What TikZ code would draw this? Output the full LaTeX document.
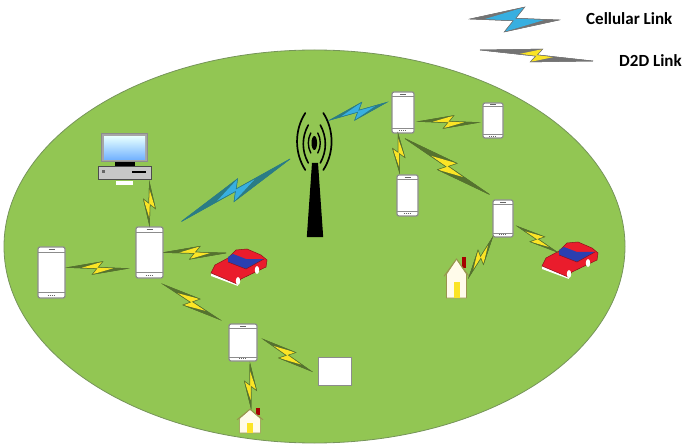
\documentclass[tikz,border=0pt]{standalone}
\usepackage{fontspec}
\setmainfont{Carlito}
\usepackage{xcolor}
\usetikzlibrary{calc, positioning, shapes.geometric}

\definecolor{fieldgreen}{HTML}{92C653}
\definecolor{fieldedge}{HTML}{76945A}
\definecolor{boltyellow}{HTML}{FBE426}
\definecolor{boltblue}{HTML}{38AFE0}
\definecolor{tailgreen}{HTML}{55722F}
\definecolor{tailblue}{HTML}{2A7C86}
\definecolor{carred}{HTML}{EA1C2C}
\definecolor{carblue}{HTML}{2B3FB0}
\definecolor{wallcream}{HTML}{FFFBEA}

% zig-zag link: [half height]{style}{from}{to}
\newcommand{\zlink}[4][5]{%
  \coordinate (za) at (#3);
  \coordinate (zb) at (#4);
  \coordinate (zm) at ($(za)!.5!(zb)$);
  \coordinate (ztop) at ($(zm)!.8*#1pt!(zb)!#1pt!90:(zb)$);
  \coordinate (zbot) at ($(zm)!-.8*#1pt!(zb)!-#1pt!90:(zb)$);
  \coordinate (zna) at ($(zm)!.1*#1pt!(zb)!.1*#1pt!90:(zb)$);
  \coordinate (znb) at ($(zm)!-.1*#1pt!(zb)!-.1*#1pt!90:(zb)$);
  \fill[#2tail] (za) -- (ztop) -- (zna) -- (zb) -- (zbot) -- (znb) -- cycle;
  \fill[#2core] ($(zm)!-2.4*#1pt!(zb)$) -- (ztop) -- (zna)
    -- ($(zm)!2.4*#1pt!(zb)$) -- (zbot) -- (znb) -- cycle;
  \draw[#2tail, fill=none] (za) -- (ztop) -- (zna) -- (zb) -- (zbot) -- (znb) -- cycle;
}

% car with its upper left corner at #1
\newcommand{\carat}[1]{%
  \begin{scope}[shift={(#1)}]
    \fill[white] (0,24) -- (26,34) -- (27,37) -- (0,27) -- cycle;
    \draw[carbody] (0,24) -- (4,16) -- (17,9) -- (25,1) -- (36,0) -- (50,6)
      -- (56,11) -- (55,18) -- (30,30) -- (26,35) -- cycle;
    \fill[carblue] (17,8) -- (22,5) -- (35,10) -- (53,10) -- (35,20) -- (17,13) -- cycle;
    \draw[carred!60!black, line width=.5pt] (17,13) -- (35,20) -- (53,10);
    \fill[white] (27,32) ellipse (2.2 and 4);
    \fill[white] (46,21) ellipse (2.2 and 4);
  \end{scope}
}

% house: top left corner #1, width #2, height #3
\newcommand{\houseat}[3]{%
  \begin{scope}[shift={(#1)}, x=#2pt, y=-#3pt]
    \fill[red!65!black] (.72,0) rectangle (.88,.28);
    \draw[housewall] (.1,.42) -- (.5,.05) -- (.9,.42) -- (.9,1) -- (.1,1) -- cycle;
    \draw[housewall, fill=none, line width=.9pt] (0,.47) -- (.5,.05) -- (1,.47);
    \fill[boltyellow] (.38,.6) rectangle (.62,1);
  \end{scope}
}

\begin{document}
\begin{tikzpicture}[
  x=1pt, y=-1pt,
  cellulartail/.style={draw=tailblue, fill=tailblue, line width=.5pt, line join=miter},
  cellularcore/.style={fill=boltblue},
  dtodtail/.style={draw=tailgreen, fill=tailgreen, line width=.5pt, line join=miter},
  dtodcore/.style={fill=boltyellow},
  legendctail/.style={draw=black!55, fill=black!55, line width=.5pt},
  legendccore/.style={fill=boltblue},
  legenddtail/.style={draw=black!55, fill=black!55, line width=.5pt},
  legenddcore/.style={fill=boltyellow},
  phonebox/.style={draw=black!45, fill=white, rounded corners=2pt, line width=1.2pt,
    inner sep=0pt, path picture={
      \draw[black!45, line width=.7pt]
        ($(path picture bounding box.north west)!.11!(path picture bounding box.south west)$)
        -- ($(path picture bounding box.north east)!.11!(path picture bounding box.south east)$)
        ($(path picture bounding box.north west)!.89!(path picture bounding box.south west)$)
        -- ($(path picture bounding box.north east)!.89!(path picture bounding box.south east)$);
      \draw[black!60, line width=1pt]
        ($(path picture bounding box.north)!.055!(path picture bounding box.south)+(-3,0)$)
        -- ++(6,0);
      \draw[black!60, line width=1pt, densely dotted]
        ($(path picture bounding box.north)!.945!(path picture bounding box.south)+(-4,0)$)
        -- ++(8,0);
    }},
  carbody/.style={fill=carred, draw=carred!60!black, line width=.5pt},
  housewall/.style={fill=wallcream, draw=black!30!olive!70, line width=.6pt},
  legendtext/.style={font=\bfseries\fontsize{17}{19}\selectfont, inner sep=0pt, anchor=west},
]
\useasboundingbox (0,0) rectangle (682,446);

\node[draw=fieldedge, fill=fieldgreen, line width=.8pt, ellipse, inner sep=0pt,
      minimum width=621pt, minimum height=393pt] (field) at (314.5,246.5) {};

% legend
\coordinate (cella) at (470,19);
\coordinate (cellb) at (559,20);
\coordinate (dtoda) at (480,50);
\coordinate (dtodb) at (593,61);
\zlink[12.5]{legendc}{cella}{cellb}
\zlink[7]{legendd}{dtoda}{dtodb}
\node[legendtext] (celltext) at (586,19) {Cellular Link};
\node[legendtext] (dtodtext) at (619,61) {D2D Link};

% tower
\node[minimum width=16pt, minimum height=74pt, inner sep=0pt] (tower) at (315,200) {};
\fill[black] (tower.south west) -- (tower.south east)
  -- ($(tower.north)+(3,0)$) -- ($(tower.north)+(-3,0)$) -- cycle;
\fill[black] (314.3,143) ellipse (2.8 and 7);
\foreach \s in {-1,1} {
  \draw[black, line width=1.7pt, line cap=round]
    ({314.3+\s*9},113) .. controls ({314.3+\s*20},130) and ({314.3+\s*20},153) .. ({314.3+\s*9},170);
  \draw[black, line width=1.6pt, line cap=round]
    ({314.3+\s*6},125) .. controls ({314.3+\s*12.7},137) and ({314.3+\s*12.7},151) .. ({314.3+\s*6},163);
  \draw[black, line width=1.4pt, line cap=round]
    ({314.3+\s*3.5},133) .. controls ({314.3+\s*6.8},139) and ({314.3+\s*6.8},147) .. ({314.3+\s*3.5},153);
}

% computer
\node[draw=black!45, fill=black!35, line width=1pt, minimum width=46pt, minimum height=28pt, inner sep=0pt] (monitor) at (124.5,148) {};
\shade[top color=cyan!10, bottom color=cyan!45!blue!55, shading angle=0]
  ($(monitor.north west)+(3,3)$) rectangle ($(monitor.south east)+(-3,-3)$);
\fill[black] ($(monitor.south)+(-10,0)$) rectangle ($(monitor.south)+(10,4)$);
\node[draw=black!70, fill=black!22, line width=.8pt, minimum width=53pt, minimum height=13pt, inner sep=0pt] (pc) at (124.5,172.5) {};
\fill[black] ($(pc.east)+(-19,-1.5)$) rectangle ($(pc.east)+(-5,.5)$);
\fill[black!60] ($(pc.west)+(4,-2)$) rectangle ($(pc.west)+(7,1)$);
\node[fill=white, minimum width=17pt, minimum height=3.5pt, inner sep=0pt] (pclabel) at (124,183) {};

% phones
\node[phonebox, minimum width=27pt, minimum height=51pt] (mainphone) at (149.5,252.5) {};
\node[phonebox, minimum width=27pt, minimum height=51pt] (leftphone) at (51.5,272.5) {};
\node[phonebox, minimum width=22pt, minimum height=41pt] (topphone)  at (403,112.5) {};
\node[phonebox, minimum width=20pt, minimum height=35pt] (farphone)  at (493,120.5) {};
\node[phonebox, minimum width=21pt, minimum height=41pt] (lowphone)  at (407.5,195.5) {};
\node[phonebox, minimum width=20pt, minimum height=37pt] (rightphone) at (503,218.5) {};
\node[phonebox, minimum width=28pt, minimum height=37pt] (tablet)    at (243,342.5) {};
\node[draw=black!45, fill=white, line width=1pt, inner sep=0pt,
      minimum width=33pt, minimum height=28pt] (square) at (335,371) {};

% cars and houses
\coordinate (cara) at (211,249);
\coordinate (carb) at (542,242);
\coordinate (carain) at ($(cara)+(15,4)$);
\coordinate (carbin) at ($(carb)+(15,10)$);
\carat{cara}
\carat{carb}
\coordinate (housea) at (237,408);
\coordinate (houseb) at (444,257);
\houseat{housea}{26}{25}
\houseat{houseb}{25}{41}

% links
\zlink[9]{cellular}{$(mainphone.north east)+(18,-5)$}{290,159}
\zlink[7.5]{cellular}{330,120}{$(topphone.west)+(-5,-10)$}
\zlink[6]{dtod}{$(pc.south east)+(-2,3)$}{$(mainphone.north)+(0,-1)$}
\zlink[6.5]{dtod}{mainphone.east}{carain}
\zlink[6.5]{dtod}{$(leftphone.east)+(2,-5)$}{$(mainphone.west)+(-8,16)$}
\zlink[7]{dtod}{$(mainphone.south east)+(0,6)$}{$(tablet.north west)+(-9,-4)$}
\zlink[7]{dtod}{$(tablet.east)+(6,-3)$}{$(square.west)+(-7,0)$}
\zlink[6]{dtod}{$(tablet.south)+(7,2)$}{$(housea)+(14,0)$}
\zlink[6.5]{dtod}{$(topphone.east)+(4,9)$}{$(farphone.west)+(-4,2)$}
\zlink[6]{dtod}{$(topphone.south)+(-5,0)$}{$(lowphone.north)+(-8,-2)$}
\zlink[8]{dtod}{$(topphone.south)+(2,5)$}{$(rightphone.north west)+(-3,-5)$}
\zlink[6]{dtod}{rightphone.south west}{$(houseb)+(25,20)$}
\zlink[6]{dtod}{$(rightphone.east)+(4,8)$}{carbin}
\end{tikzpicture}
\end{document}
